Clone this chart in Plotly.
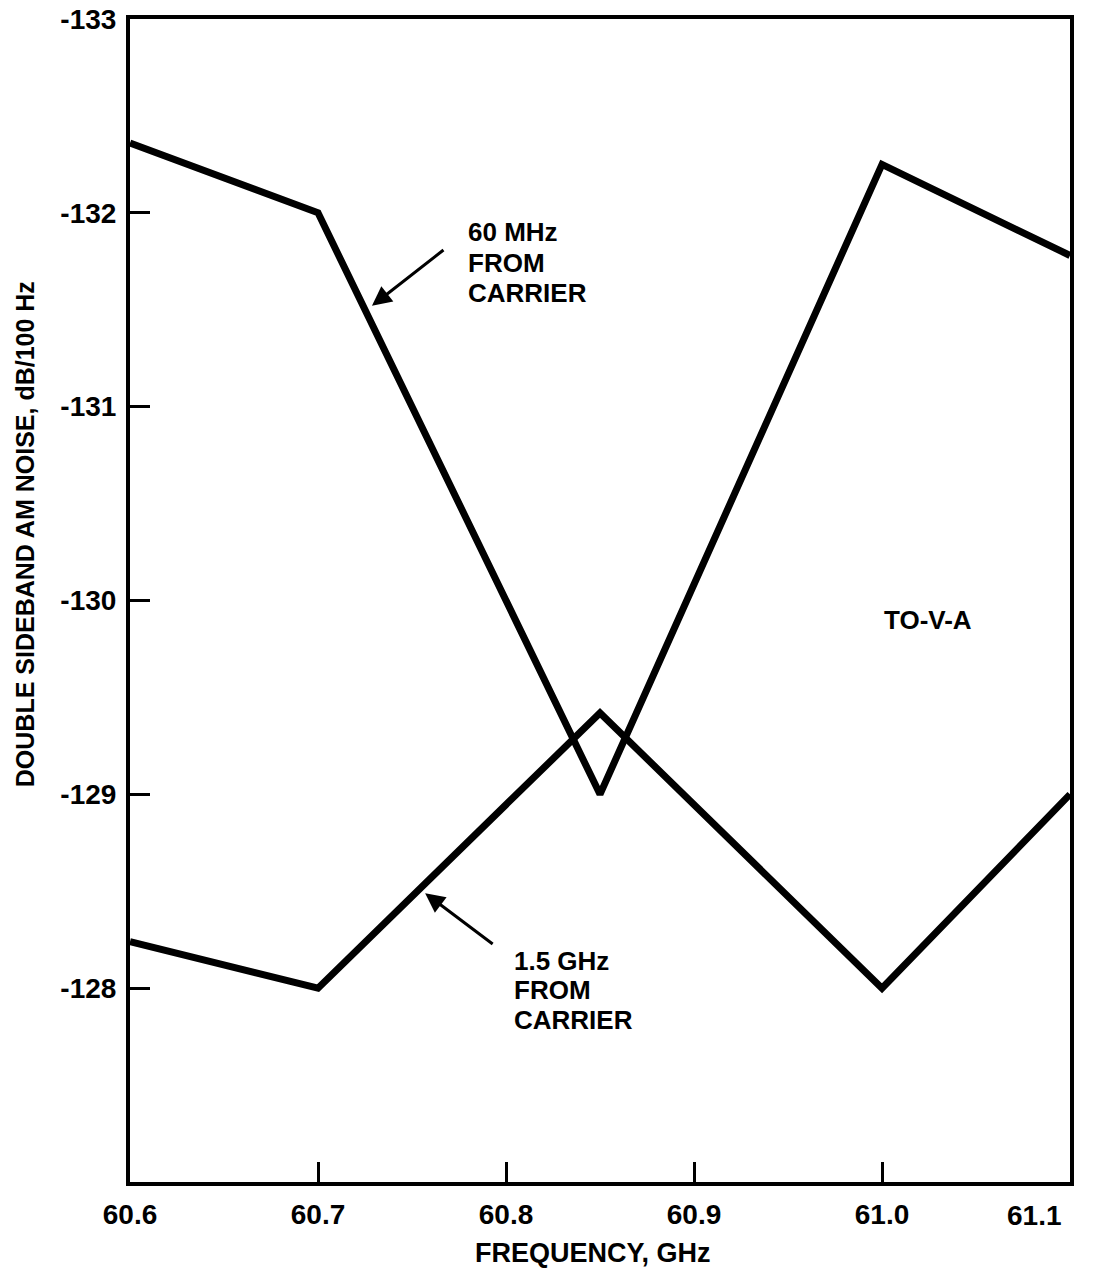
import plotly.graph_objects as go

# Frequency points (GHz) and double-sideband AM noise (dB/100 Hz)
freq_ghz = [60.6, 60.7, 60.85, 61.0, 61.1]
noise_60mhz = [-132.36, -132.0, -129.0, -132.25, -131.78]
noise_1p5ghz = [-128.24, -128.0, -129.42, -128.0, -129.0]

x_tick_vals = [60.6, 60.7, 60.8, 60.9, 61.0, 61.1]
x_tick_text = ["60.6", "60.7", "60.8", "60.9", "61.0", "61.1"]
y_tick_vals = [-133, -132, -131, -130, -129, -128]
y_tick_text = ["-133", "-132", "-131", "-130", "-129", "-128"]

label_60mhz = ["60 MHz", "FROM", "CARRIER"]
label_1p5ghz = ["1.5 GHz", "FROM", "CARRIER"]

FONT = "Liberation Sans, Arial, sans-serif"
INK = "black"

fig = go.Figure()
fig.add_trace(go.Scatter(x=freq_ghz, y=noise_60mhz, mode="lines",
                         line=dict(color=INK, width=7), showlegend=False))
fig.add_trace(go.Scatter(x=freq_ghz, y=noise_1p5ghz, mode="lines",
                         line=dict(color=INK, width=7), showlegend=False))

label_font = dict(family=FONT, size=26, color=INK, weight="bold")
title_font = dict(family=FONT, size=27, color=INK, weight="bold")
tick_font = dict(family=FONT, size=28, color=INK, weight="bold")

annotations = [
    # pointer arrows from the labels to their curves
    dict(x=60.7287, y=-131.52, xref="x", yref="y", ax=73, ay=-57,
         axref="pixel", ayref="pixel", showarrow=True, arrowhead=2,
         arrowsize=1.3, arrowwidth=3, arrowcolor=INK, text=""),
    dict(x=60.757, y=-128.49, xref="x", yref="y", ax=69, ay=52,
         showarrow=True, arrowhead=2, arrowsize=1.3, arrowwidth=3,
         arrowcolor=INK, text=""),
]

# stacked curve labels, one annotation per line
for i, line in enumerate(label_60mhz):
    annotations.append(dict(
        x=60.7787, y=-131.90 + 0.157 * i, xref="x", yref="y",
        xanchor="left", yanchor="middle", showarrow=False, text=line,
        font=label_font))
for i, line in enumerate(label_1p5ghz):
    annotations.append(dict(
        x=60.8032, y=-128.14 + 0.152 * i, xref="x", yref="y",
        xanchor="left", yanchor="middle", showarrow=False, text=line,
        font=label_font))

annotations += [
    dict(x=61.0245, y=-129.90, xref="x", yref="y", xanchor="center",
         yanchor="middle", showarrow=False, text="TO-V-A", font=label_font),
    # last x tick label sits just inside the right edge of the frame
    dict(x=x_tick_vals[-1], y=0, xref="x", yref="paper", xanchor="right",
         yanchor="top", xshift=-6, yshift=-16, showarrow=False,
         text=x_tick_text[-1], font=tick_font),
    # axis titles
    dict(x=0.4926, y=-0.061, xref="paper", yref="paper",
         xanchor="center", yanchor="middle", showarrow=False,
         text="FREQUENCY, GHz", font=title_font),
    dict(x=-0.1117, y=0.557, xref="paper", yref="paper",
         xanchor="center", yanchor="middle", showarrow=False, textangle=-90,
         text="DOUBLE SIDEBAND AM NOISE, dB/100 Hz",
         font=dict(family=FONT, size=25, color=INK, weight="bold")),
]

fig.update_layout(
    width=1094, height=1281,
    margin=dict(l=130, r=24, t=19, b=99),
    paper_bgcolor="white", plot_bgcolor="white",
    annotations=annotations,
    xaxis=dict(
        range=[60.6, 61.1], tickmode="array", tickvals=x_tick_vals,
        ticktext=x_tick_text[:-1] + [""], ticks="inside", ticklen=20,
        tickwidth=3, tickcolor=INK, showline=True, linewidth=4,
        linecolor=INK, mirror=True, showgrid=False, zeroline=False,
        tickfont=tick_font, ticklabelstandoff=4, automargin=False,
    ),
    yaxis=dict(
        range=[-127.0, -133.0], tickmode="array", tickvals=y_tick_vals,
        ticktext=y_tick_text, ticks="inside", ticklen=20, tickwidth=3,
        tickcolor=INK, showline=True, linewidth=4, linecolor=INK,
        mirror=True, showgrid=False, zeroline=False,
        tickfont=tick_font, ticklabelstandoff=4, automargin=False,
    ),
)

fig.write_html("out.html")
